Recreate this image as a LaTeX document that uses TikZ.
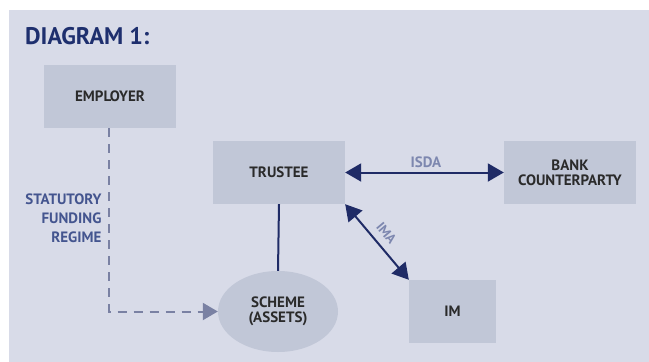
\documentclass[tikz,border=0pt]{standalone}
\usepackage{fontspec}
\setmainfont{PT Sans}
\usetikzlibrary{arrows.meta,shapes.geometric}
\definecolor{panel}{HTML}{D8DBE8}
\definecolor{boxfill}{HTML}{C1C7D7}
\definecolor{navy}{HTML}{1F2B66}
\definecolor{titleblue}{HTML}{1E2F6E}
\definecolor{softblue}{HTML}{7D87AF}
\definecolor{midblue}{HTML}{44558F}
\definecolor{dashcol}{HTML}{7A81A3}
\definecolor{ink}{HTML}{2A2A2A}
\tikzset{
  x=1pt, y=-1pt,
  label font/.style={font=\bfseries\fontsize{15}{17}\selectfont},
  entity/.style={fill=boxfill, draw=none, minimum width=132pt, minimum height=63pt,
    align=center, label font, text=ink, inner sep=0pt},
  link/.style={navy, line width=2pt},
  twoway/.style={link, {Triangle[length=16pt,width=18pt]}-{Triangle[length=16pt,width=18pt]}},
  tag/.style={label font, text=softblue, inner sep=0pt},
}
\begin{document}
\begin{tikzpicture}
\useasboundingbox (0,0) rectangle (649,362);
\fill[white] (0,0) rectangle (649,362);
\fill[panel] (9,10) rectangle (649,362);

\node[anchor=base west, font=\bfseries\fontsize{24}{26}\selectfont, text=titleblue, inner sep=0pt]
  (title) at (25,44.5) {DIAGRAM 1:};

\node[entity] (employer) at (110,96.5) {EMPLOYER};
\node[entity] (trustee) at (279,172.5) {TRUSTEE};
\node[entity] (bank) at (570,172.5) {BANK\\[-2pt]COUNTERPARTY};
\node[entity, minimum width=87pt] (im) at (452.5,311.5) {IM};
\node[ellipse, fill=boxfill, minimum width=120pt, minimum height=81pt, inner sep=0pt,
  align=center, label font, text=ink] (scheme) at (278,311.5)
  {SCHEME\\[-2pt](ASSETS)};

% trustee to scheme
\draw[link] (trustee.south) -- (scheme.north);
% derivative and management agreements
\draw[twoway] (trustee.east) -- (bank.west);
\node[tag] (isda) at (426,162) {ISDA};
\draw[twoway] (trustee.south east) -- (im.north west);
\node[tag, font=\bfseries\fontsize{13.5}{15}\selectfont, rotate=-50] (ima) at (386.5,233) {IMA};

% statutory funding obligation
\coordinate (bend) at (109,311.5);
\draw[dashcol, line width=2pt, dash pattern=on 9pt off 7pt,
  -{Triangle[length=15pt,width=17pt]}] (employer.south -| bend) -- (bend) -- (scheme.west);
\node[anchor=east, align=right, font=\bfseries\fontsize{15}{19}\selectfont, text=midblue]
  (regime) at (105,218) {STATUTORY\\FUNDING\\REGIME};
\end{tikzpicture}
\end{document}
